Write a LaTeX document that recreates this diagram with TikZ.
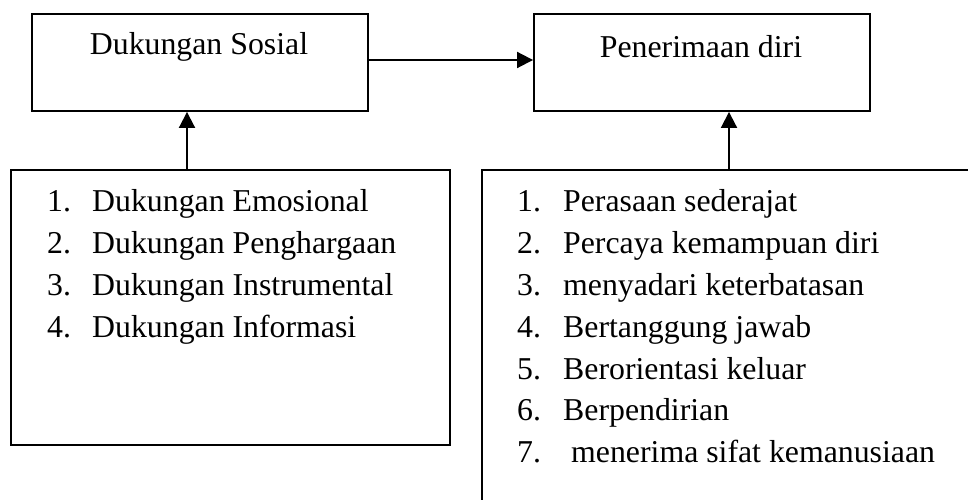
\documentclass[tikz,border=0pt]{standalone}
\usepackage{fontspec}
\setmainfont{Liberation Serif}
\usetikzlibrary{arrows.meta}
\begin{document}
\begin{tikzpicture}[x=1pt,y=1pt,
  box/.style={draw,line width=1.9pt,rectangle,inner sep=0pt},
  arr/.style={line width=1.9pt,-{Triangle[length=16pt,width=16pt]}},
  txt/.style={inner sep=0pt,font=\fontsize{31.8}{42}\selectfont},
  item/.style={txt,anchor=base west}]
\useasboundingbox (0,0) rectangle (968,500);
\clip (0,0) rectangle (968,500);
\node[box,minimum width=336pt,minimum height=97pt] (box1) at (200,437.5) {};
\node[box,minimum width=336pt,minimum height=97pt] (box2) at (702,437.5) {};
\node[box,minimum width=439pt,minimum height=275pt] (box3) at (230.5,192.5) {};
\node[box,minimum width=520pt,minimum height=360pt] (box4) at (742,150) {};
\node[txt,anchor=base] (t1) at (199,445) {Dukungan Sosial};
\node[txt,anchor=base] (t2) at (701,442) {Penerimaan diri};
\foreach \n/\s [count=\i] in {1./Dukungan Emosional,2./Dukungan Penghargaan,3./Dukungan Instrumental,4./Dukungan Informasi}
  \node[item] (l\i) at (47,{288-42*(\i-1)}) {\makebox[45pt][l]{\n}\s};
\foreach \n/\s [count=\i] in {1./Perasaan sederajat,2./Percaya kemampuan diri,3./menyadari keterbatasan,4./Bertanggung jawab,5./Berorientasi keluar,6./Berpendirian,7./\hspace{8pt}menerima sifat kemanusiaan}
  \node[item] (r\i) at (517,{288-41.8*(\i-1)}) {\makebox[46pt][l]{\n}\s};
\coordinate (a1) at (187,0);
\coordinate (a2) at (729,0);
\draw[arr] (box3.north -| a1) -- (box1.south -| a1);
\draw[arr] (box4.north -| a2) -- (box2.south -| a2);
\draw[arr] ([yshift=2.5pt]box1.east) -- ([yshift=2.5pt]box2.west);
\end{tikzpicture}
\end{document}
